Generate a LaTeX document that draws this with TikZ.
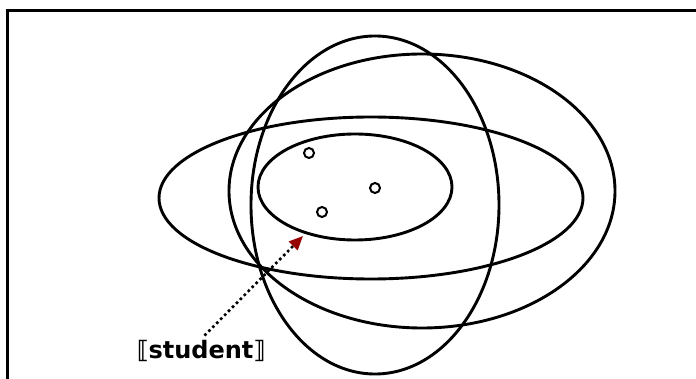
\documentclass[tikz,border=0pt]{standalone}
\usepackage{fontspec}
\setmainfont{DejaVu Sans}
\usetikzlibrary{arrows.meta,positioning,shapes.geometric}
\definecolor{tipred}{RGB}{150,0,0}

\begin{document}
\begin{tikzpicture}[x=1pt,y=-1pt,
  region/.style={ellipse,draw,line width=2.9pt,inner sep=0pt},
  elem/.style={circle,draw,line width=2pt,inner sep=0pt,minimum size=10pt},
  pointer/.style={line width=2.6pt,dash pattern=on 2.6pt off 3pt,-{Triangle[length=14pt,width=12pt,color=tipred]}}
]
\useasboundingbox (0,0) rectangle (696,379);
\draw[line width=2.6pt] (7.5,395) -- (7.5,10.5) -- (710,10.5);
% the four sets
\node[region,minimum width=424pt,minimum height=162pt] (wide) at (371,198) {};
\node[region,minimum width=194pt,minimum height=106pt] (inner) at (355,187) {};
\node[region,minimum width=248pt,minimum height=338pt] (tall) at (375,205) {};
\node[region,minimum width=386pt,minimum height=274pt] (big) at (422,191) {};
% elements
\node[elem] (e1) at (309,153) {};
\node[elem] (e2) at (375,188) {};
\node[elem] (e3) at (322,212) {};
% label
\node[inner sep=1pt] (lbl) at (201,351) {\fontsize{24}{28}\selectfont\bfseries ⟦student⟧};
\coordinate (tip) at (303,236);
\draw[pointer,shorten <=5pt] (lbl.north) -- (tip);
\end{tikzpicture}
\end{document}
